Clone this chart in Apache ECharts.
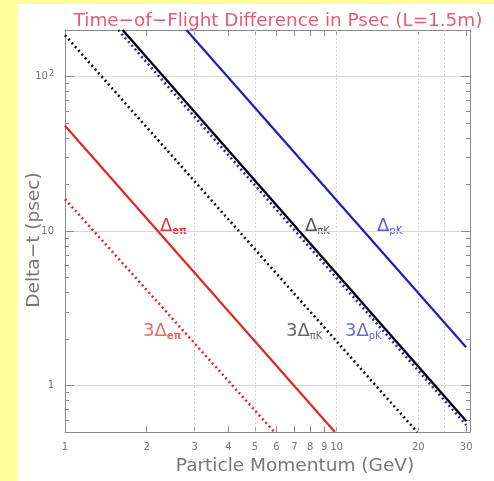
<!DOCTYPE html>
<html>
<head>
<meta charset="utf-8">
<script src="https://cdn.jsdelivr.net/npm/echarts@6/dist/echarts.min.js"></script>
<style>
html,body{margin:0;padding:0;background:#ffff9c;}
#panel{position:absolute;left:18px;top:4px;width:476px;height:477px;background:#fff;}
#chart{position:absolute;left:0;top:0;width:494px;height:481px;}
</style>
</head>
<body>
<div id="panel"></div>
<div id="chart"></div>
<script>
// ---- data ----
const xTickLabels = [1, 2, 3, 4, 5, 6, 7, 8, 9, 10, 20, 30];
const yTickValues = [0.5, 0.6, 0.7, 0.8, 0.9, 1, 2, 3, 4, 5, 6, 7, 8, 9, 10, 20, 30, 40, 50, 60, 70, 80, 90, 100, 200];
const yMajorValues = [1, 10, 100];
const xGridValues = [3, 5, 10, 20, 25];

const pEpi = [1, 9.86];
const dEpi = [48, 0.5];
const pEpi3 = [1, 5.9];
const dEpi3 = [16.1, 0.5];
const pPiK = [1.63, 30];
const dPiK = [200, 0.59];
const pPiK3 = [1, 19.8];
const dPiK3 = [185, 0.5];
const pPK = [2.8, 30];
const dPK = [200, 1.77];
const pPK3 = [1.57, 30];
const dPK3 = [200, 0.555];

const zip = (xs, ys) => xs.map((x, i) => [x, ys[i]]);

const chart = echarts.init(document.getElementById('chart'), null, {renderer: 'canvas'});
const FONT = 'DejaVu Sans';
const axisCol = '#8a8a8a';
const labelCol = '#777';

function lineSeries(name, data, color, dotted, width) {
  return {
    name: name, type: 'line', data: data, symbol: 'none', clip: true,
    xAxisIndex: 0, yAxisIndex: 0,
    lineStyle: {color: color, width: width, type: dotted ? [2, 3] : 'solid'},
    z: 5
  };
}

const baseX = {
  type: 'log', logBase: 10, min: 1, max: 31,
  axisLine: {show: true, lineStyle: {color: axisCol, width: 1}},
  splitLine: {show: false}
};
const baseY = {
  type: 'log', logBase: 10, min: 0.5, max: 200,
  axisLine: {show: true, lineStyle: {color: axisCol, width: 1}},
  splitLine: {show: false}
};

const option = {
  animation: false,
  backgroundColor: 'transparent',
  textStyle: {fontFamily: FONT},
  title: {
    text: 'Time\u2212of\u2212Flight Difference in Psec (L=1.5m)',
    left: 273, top: 7, textAlign: 'center',
    textStyle: {color: '#e65c72', fontSize: 18.4, fontWeight: 'normal', fontFamily: FONT}
  },
  grid: {left: 65, top: 30, width: 405, height: 404},
  xAxis: [
    Object.assign({}, baseX, {
      position: 'bottom',
      name: 'Particle Momentum (GeV)', nameLocation: 'middle', nameGap: 24,
      nameTextStyle: {color: '#777', fontSize: 18.5, fontFamily: FONT, padding: [0, 0, 0, 55], verticalAlign: 'top'},
      axisTick: {show: true, inside: true, length: 6, customValues: xTickLabels, lineStyle: {color: axisCol}},
      axisLabel: {show: true, customValues: xTickLabels, color: labelCol, fontSize: 10, margin: 10, fontFamily: FONT}
    }),
    Object.assign({}, baseX, {
      position: 'top',
      axisTick: {show: true, inside: true, length: 6, customValues: xTickLabels, lineStyle: {color: axisCol}},
      axisLabel: {show: false}
    })
  ],
  yAxis: [
    Object.assign({}, baseY, {
      position: 'left',
      name: 'Delta\u2212t (psec)', nameLocation: 'middle', nameGap: 31, nameRotate: 90,
      nameMoveOverlap: false,
      nameTextStyle: {color: '#777', fontSize: 18.5, fontFamily: FONT, align: 'center', verticalAlign: 'middle', padding: [0, 18, 0, 0]},
      axisTick: {show: true, inside: true, length: 4, customValues: yTickValues, lineStyle: {color: axisCol}},
      axisLabel: {
        show: true, customValues: yMajorValues, color: labelCol, fontSize: 10, margin: 11, fontFamily: FONT,
        formatter: v => (v >= 100 ? '{b|10}{s|2}' : String(Math.round(v))),
        rich: {b: {fontSize: 10, color: labelCol, fontFamily: FONT}, s: {fontSize: 8, color: labelCol, verticalAlign: 'top', fontFamily: FONT, padding: [0, 0, 6, 1]}}
      }
    }),
    Object.assign({}, baseY, {
      position: 'right',
      axisTick: {show: true, inside: true, length: 4, customValues: yTickValues, lineStyle: {color: axisCol}},
      axisLabel: {show: false}
    }),
    Object.assign({}, baseY, {
      position: 'left', axisLine: {show: false},
      splitLine: {show: true, lineStyle: {color: '#d8d8d8', width: 1, type: 'solid'}},
      axisTick: {show: true, inside: true, length: 9, customValues: yMajorValues, lineStyle: {color: axisCol}},
      axisLabel: {show: false}
    }),
    Object.assign({}, baseY, {
      position: 'right', axisLine: {show: false},
      axisTick: {show: true, inside: true, length: 9, customValues: yMajorValues, lineStyle: {color: axisCol}},
      axisLabel: {show: false}
    })
  ],
  series: [
    {
      type: 'line', data: [], xAxisIndex: 0, yAxisIndex: 0, symbol: 'none',
      markLine: {
        silent: true, symbol: 'none', label: {show: false},
        lineStyle: {color: '#d2d2d2', width: 1, type: [2, 2]},
        data: xGridValues.map(v => ({xAxis: v}))
      }
    },
    lineSeries('Δeπ', zip(pEpi, dEpi), '#e02626', false, 2.2),
    lineSeries('3Δeπ', zip(pEpi3, dEpi3), '#e02626', true, 2.6),
    lineSeries('3ΔπK', zip(pPiK3, dPiK3), '#111111', true, 2.6),
    lineSeries('ΔπK', zip(pPiK, dPiK), '#000000', false, 2.4),
    lineSeries('3ΔpK', zip(pPK3, dPK3), '#2626c8', true, 2.6),
    lineSeries('ΔpK', zip(pPK, dPK), '#1f1fb8', false, 2.2)
  ],
  graphic: [
    {type: 'text', left: 160, top: 217, style: {text: '{d|Δ}{s|eπ}', rich: {d: {fontSize: 18, fill: '#e23a3a', fontFamily: FONT}, s: {fontSize: 10, fill: '#e23a3a', fontWeight: 'bold', fontFamily: FONT, padding: [10, 0, 0, 0]}}}},
    {type: 'text', left: 143, top: 322, style: {text: '{d|3Δ}{s|eπ}', rich: {d: {fontSize: 18, fill: '#e86a6a', fontFamily: FONT}, s: {fontSize: 10, fill: '#e86a6a', fontWeight: 'bold', fontFamily: FONT, padding: [10, 0, 0, 0]}}}},
    {type: 'text', left: 305, top: 217, style: {text: '{d|Δ}{s|πK}', rich: {d: {fontSize: 18, fill: '#555', fontFamily: FONT}, s: {fontSize: 10, fill: '#555', fontFamily: FONT, padding: [10, 0, 0, 0]}}}},
    {type: 'text', left: 286, top: 322, style: {text: '{d|3Δ}{s|πK}', rich: {d: {fontSize: 18, fill: '#666', fontFamily: FONT}, s: {fontSize: 10, fill: '#666', fontFamily: FONT, padding: [10, 0, 0, 0]}}}},
    {type: 'text', left: 377, top: 217, style: {text: '{d|Δ}{s|pK}', rich: {d: {fontSize: 18, fill: '#5a5ad6', fontFamily: FONT}, s: {fontSize: 10, fill: '#5a5ad6', fontFamily: FONT, padding: [10, 0, 0, 0]}}}},
    {type: 'text', left: 345, top: 322, style: {text: '{d|3Δ}{s|pK}', rich: {d: {fontSize: 18, fill: '#6a6ade', fontFamily: FONT}, s: {fontSize: 10, fill: '#6a6ade', fontFamily: FONT, padding: [10, 0, 0, 0]}}}}
  ]
};
chart.setOption(option);
</script>
</body>
</html>
